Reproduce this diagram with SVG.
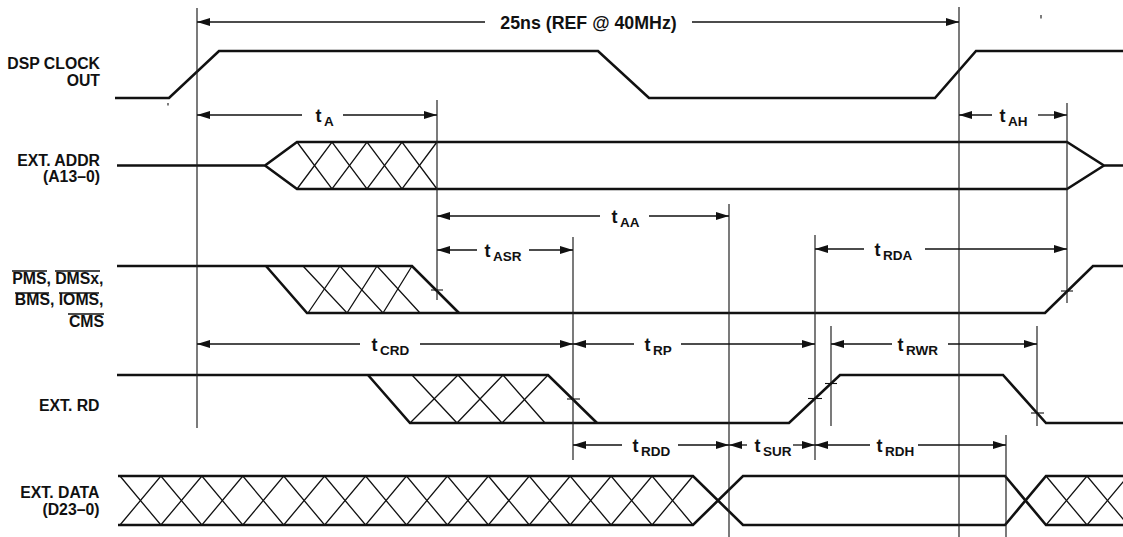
<svg xmlns="http://www.w3.org/2000/svg" width="1123" height="537" viewBox="0 0 1123 537">
<style>
  .lbl{font-family:"Liberation Sans",Arial,sans-serif;font-weight:bold;font-size:15.8px;fill:#111;text-anchor:end}
  .t{font-family:"Liberation Sans",Arial,sans-serif;font-weight:bold;font-size:18px;fill:#111}
  .s{font-size:13.5px}
  .top{font-family:"Liberation Sans",Arial,sans-serif;font-weight:bold;font-size:17.8px;fill:#111;text-anchor:middle}
  .sig{fill:none;stroke:#111;stroke-width:2.6;stroke-linejoin:miter}
  .hatch{fill:none;stroke:#111;stroke-width:1.3}
  .ov{stroke:#111;stroke-width:1.4}
  .vl{stroke:#222;stroke-width:1.2}
  .dim{stroke:#111;stroke-width:1.3;fill:none}
  .l{marker-start:url(#ah)}
  .r{marker-end:url(#ah)}
  .tick{stroke:#111;stroke-width:1.1}
</style>
<defs>
  <marker id="ah" markerUnits="userSpaceOnUse" markerWidth="14" markerHeight="9" refX="13" refY="4" orient="auto-start-reverse">
    <path d="M0,0 L13,4 L0,8 z" fill="#111"/>
  </marker>
</defs>
<rect width="1123" height="537" fill="#fff"/>

<g id="sig-clock">
  <text class="lbl" x="100" y="68.5">DSP CLOCK</text>
  <text class="lbl" x="100" y="86">OUT</text>
  <path class="sig" d="M115,98 H169 L219,51 H598 L649,98 H935 L976,51 H1123"/>
  <line class="tick" x1="168" y1="103" x2="168" y2="105.5"/>
  <line class="tick" x1="1041" y1="15" x2="1041" y2="18.5"/>
</g>

<g id="sig-addr">
  <text class="lbl" x="100" y="166">EXT. ADDR</text>
  <text class="lbl" x="100" y="182">(A13–0)</text>
  <path class="sig" d="M117,165.5 H265 L297,142 H1067 L1104,165.5 H1123"/>
  <path class="sig" d="M265,165.5 L297,189 H1067 L1104,165.5"/>
  <polyline class="hatch" points="297,142 332,189 367,142 402,189 437,142"/>
  <polyline class="hatch" points="297,189 332,142 367,189 402,142 437,189"/>
</g>

<g id="sig-ms">
  <text class="lbl" x="103.5" y="284">PMS, DMSx,</text>
  <text class="lbl" x="103.5" y="305">BMS, IOMS,</text>
  <text class="lbl" x="104" y="327">CMS</text>
  <line class="ov" x1="12" y1="271" x2="47" y2="271"/>
  <line class="ov" x1="55" y1="271" x2="100" y2="271"/>
  <line class="ov" x1="15" y1="293" x2="49" y2="293"/>
  <line class="ov" x1="59" y1="293" x2="99" y2="293"/>
  <line class="ov" x1="68" y1="314" x2="104" y2="314"/>
  <path class="sig" d="M117,266 H412 L459,313"/>
  <path class="sig" d="M266,266 L307,313 H1045 L1093,266 H1123"/>
  <polyline class="hatch" points="303,266 347,313 377,266 420,313"/>
  <polyline class="hatch" points="308,313 340,266 383,313 412,266"/>
</g>

<g id="sig-rd">
  <text class="lbl" x="99.5" y="411">EXT. RD</text>
  <path class="sig" d="M117,375 H548 L597,423"/>
  <path class="sig" d="M368,375 L410,423 H789 L840,375 H1003 L1046,423 H1123"/>
  <polyline class="hatch" points="412,375 457,423 503,375 545,423"/>
  <polyline class="hatch" points="410,423 458,375 502,423 548,375"/>
</g>

<g id="sig-data">
  <text class="lbl" x="99.5" y="498">EXT. DATA</text>
  <text class="lbl" x="99.5" y="515">(D23–0)</text>
  <path class="sig" d="M118,476 H693 L743,525 H1005 L1046,476 H1123"/>
  <path class="sig" d="M118,525 H693 L743,476 H1005 L1046,525 H1123"/>
  <polyline class="hatch" points="120,476 160.9,525 201.9,476 242.8,525 283.7,476 324.6,525 365.6,476 406.5,525 447.4,476 488.4,525 529.3,476 570.2,525 611.1,476 652.1,525 693,476"/>
  <polyline class="hatch" points="120,525 160.9,476 201.9,525 242.8,476 283.7,525 324.6,476 365.6,525 406.5,476 447.4,525 488.4,476 529.3,525 570.2,476 611.1,525 652.1,476 693,525"/>
  <polyline class="hatch" points="1046,476 1087,525 1128,476"/>
  <polyline class="hatch" points="1046,525 1087,476 1128,525"/>
</g>

<g id="connectors">
  <line class="vl" x1="197" y1="8" x2="197" y2="428"/>
  <line class="vl" x1="437" y1="100" x2="437" y2="300"/>
  <line class="vl" x1="573" y1="237" x2="573" y2="460"/>
  <line class="vl" x1="729" y1="204" x2="729" y2="537"/>
  <line class="vl" x1="959" y1="7" x2="959" y2="537"/>
  <line class="vl" x1="1067" y1="103" x2="1067" y2="303"/>
  <line class="vl" x1="815" y1="235" x2="815" y2="460"/>
  <line class="vl" x1="831" y1="326" x2="831" y2="426"/>
  <line class="vl" x1="1037" y1="326" x2="1037" y2="426"/>
  <line class="vl" x1="1006" y1="435" x2="1006" y2="537"/>
  <line class="tick" x1="431" y1="290" x2="443" y2="290"/>
  <line class="tick" x1="567" y1="399" x2="580" y2="399"/>
  <line class="tick" x1="808" y1="398.5" x2="822" y2="398.5"/>
  <line class="tick" x1="825" y1="383.5" x2="837" y2="383.5"/>
  <line class="tick" x1="1031" y1="413" x2="1044" y2="413"/>
  <line class="tick" x1="1061" y1="291" x2="1073" y2="291"/>

  <line class="dim l" x1="197" y1="22" x2="485" y2="22"/>
  <line class="dim r" x1="692" y1="22" x2="959" y2="22"/>
  <text class="top" x="588.5" y="29">25ns (REF @ 40MHz)</text>
  <line class="dim l" x1="197" y1="115" x2="302" y2="115"/>
  <line class="dim r" x1="343" y1="115" x2="437" y2="115"/>
  <text class="t" x="315.5" y="122">t<tspan class="s" dx="2.5" dy="4">A</tspan></text>
  <line class="dim l" x1="959" y1="115" x2="992" y2="115"/>
  <line class="dim r" x1="1038" y1="115" x2="1067" y2="115"/>
  <text class="t" x="999.5" y="122">t<tspan class="s" dx="2.5" dy="4">AH</tspan></text>
  <line class="dim l" x1="437" y1="216" x2="600" y2="216"/>
  <line class="dim r" x1="649" y1="216" x2="729" y2="216"/>
  <text class="t" x="611.5" y="222.5">t<tspan class="s" dx="2.5" dy="4">AA</tspan></text>
  <line class="dim l" x1="437" y1="250" x2="477" y2="250"/>
  <line class="dim r" x1="529" y1="250" x2="573" y2="250"/>
  <text class="t" x="484.5" y="256.5">t<tspan class="s" dx="2.5" dy="4">ASR</tspan></text>
  <line class="dim l" x1="815" y1="249" x2="864" y2="249"/>
  <line class="dim r" x1="925" y1="249" x2="1067" y2="249"/>
  <text class="t" x="874.5" y="255.5">t<tspan class="s" dx="2.5" dy="4">RDA</tspan></text>
  <line class="dim l" x1="197" y1="344" x2="360" y2="344"/>
  <line class="dim r" x1="420" y1="344" x2="573" y2="344"/>
  <text class="t" x="371.5" y="350.5">t<tspan class="s" dx="2.5" dy="4">CRD</tspan></text>
  <line class="dim l" x1="573" y1="344" x2="634" y2="344"/>
  <line class="dim r" x1="681" y1="344" x2="815" y2="344"/>
  <text class="t" x="644.5" y="350.5">t<tspan class="s" dx="2.5" dy="4">RP</tspan></text>
  <line class="dim l" x1="831" y1="344" x2="892" y2="344"/>
  <line class="dim r" x1="948" y1="344" x2="1037" y2="344"/>
  <text class="t" x="897.5" y="350.5">t<tspan class="s" dx="2.5" dy="4">RWR</tspan></text>
  <line class="dim l" x1="573" y1="445" x2="622" y2="445"/>
  <line class="dim r" x1="678" y1="445" x2="729" y2="445"/>
  <text class="t" x="632.5" y="451.5">t<tspan class="s" dx="2.5" dy="4">RDD</tspan></text>
  <line class="dim l" x1="729" y1="445" x2="747" y2="445"/>
  <line class="dim r" x1="793" y1="445" x2="815" y2="445"/>
  <text class="t" x="754.5" y="451.5">t<tspan class="s" dx="2.5" dy="4">SUR</tspan></text>
  <line class="dim l" x1="815" y1="445" x2="870" y2="445"/>
  <line class="dim r" x1="918" y1="445" x2="1006" y2="445"/>
  <text class="t" x="876.5" y="451.5">t<tspan class="s" dx="2.5" dy="4">RDH</tspan></text>
</g>
</svg>
